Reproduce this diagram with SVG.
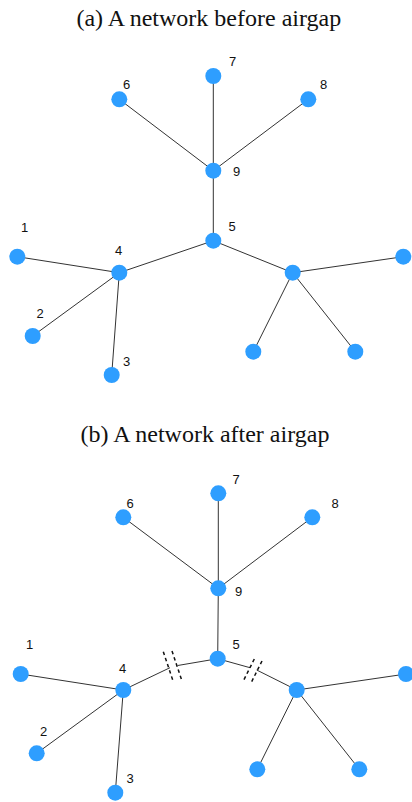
<svg xmlns="http://www.w3.org/2000/svg" width="412" height="802" viewBox="0 0 412 802">
<style>
.title{font-family:"Liberation Serif","Times New Roman",serif;font-size:24px;fill:#111;text-anchor:middle}
.lbl{font-family:"Liberation Sans",Arial,sans-serif;font-size:13px;fill:#111}
.node{fill:#2E9EFF}
.edge{stroke:#333;stroke-width:1;fill:none}
.gap{stroke:#111;stroke-width:1.5;stroke-dasharray:3.5 3;fill:none}
</style>
<rect width="412" height="802" fill="#fff"/>
<text class="title" x="208.8" y="26">(a) A network before airgap</text>
<text class="title" x="205" y="442.3">(b) A network after airgap</text>

<g id="connectors">
  <!-- (a) -->
  <line class="edge" x1="119.3" y1="99.3" x2="213.3" y2="170.7"/>
  <line class="edge" x1="213.3" y1="76" x2="213.3" y2="170.7"/>
  <line class="edge" x1="308.3" y1="99.3" x2="213.3" y2="170.7"/>
  <line class="edge" x1="213.3" y1="170.7" x2="213.3" y2="240.7"/>
  <line class="edge" x1="213.3" y1="240.7" x2="119.3" y2="272.7"/>
  <line class="edge" x1="119.3" y1="272.7" x2="17.3" y2="256.7"/>
  <line class="edge" x1="119.3" y1="272.7" x2="32.7" y2="336"/>
  <line class="edge" x1="119.3" y1="272.7" x2="111.7" y2="375"/>
  <line class="edge" x1="213.3" y1="240.7" x2="292.7" y2="272.7"/>
  <line class="edge" x1="292.7" y1="272.7" x2="403.3" y2="256.7"/>
  <line class="edge" x1="292.7" y1="272.7" x2="253.3" y2="351.7"/>
  <line class="edge" x1="292.7" y1="272.7" x2="355.3" y2="351.7"/>
  <!-- (b) -->
  <line class="edge" x1="123.3" y1="517.3" x2="218.3" y2="588.3"/>
  <line class="edge" x1="218.3" y1="493.3" x2="218.3" y2="588.3"/>
  <line class="edge" x1="312.3" y1="517.3" x2="218.3" y2="588.3"/>
  <line class="edge" x1="218.3" y1="588.3" x2="217.7" y2="658.7"/>
  <line class="edge" x1="123.3" y1="690" x2="170" y2="667.7"/>
  <line class="edge" x1="177.7" y1="665.5" x2="217.7" y2="658.7"/>
  <line class="edge" x1="217.7" y1="658.7" x2="250" y2="667.7"/>
  <line class="edge" x1="256.7" y1="670" x2="296.7" y2="690"/>
  <line class="edge" x1="123.3" y1="690" x2="20.7" y2="674"/>
  <line class="edge" x1="123.3" y1="690" x2="36.7" y2="753.3"/>
  <line class="edge" x1="123.3" y1="690" x2="115.3" y2="792.7"/>
  <line class="edge" x1="296.7" y1="690" x2="406" y2="674"/>
  <line class="edge" x1="296.7" y1="690" x2="257.3" y2="769.3"/>
  <line class="edge" x1="296.7" y1="690" x2="359.3" y2="769.3"/>
  <!-- airgap marks -->
  <line class="gap" x1="163.3" y1="651.7" x2="173.3" y2="681.7"/>
  <line class="gap" x1="172" y1="651" x2="182" y2="681"/>
  <line class="gap" x1="254.3" y1="659" x2="243.3" y2="681"/>
  <line class="gap" x1="262" y1="661" x2="251" y2="683"/>
</g>

<g id="a-n6"><circle class="node" cx="119.3" cy="99.3" r="8"/><text class="lbl" x="123" y="89">6</text></g>
<g id="a-n7"><circle class="node" cx="213.3" cy="76" r="8"/><text class="lbl" x="229" y="66">7</text></g>
<g id="a-n8"><circle class="node" cx="308.3" cy="99.3" r="8"/><text class="lbl" x="320" y="89">8</text></g>
<g id="a-n9"><circle class="node" cx="213.3" cy="170.7" r="8"/><text class="lbl" x="233" y="176">9</text></g>
<g id="a-n5"><circle class="node" cx="213.3" cy="240.7" r="8"/><text class="lbl" x="228.5" y="231">5</text></g>
<g id="a-n4"><circle class="node" cx="119.3" cy="272.7" r="8"/><text class="lbl" x="115" y="255">4</text></g>
<g id="a-n1"><circle class="node" cx="17.3" cy="256.7" r="8"/><text class="lbl" x="21" y="231.5">1</text></g>
<g id="a-n2"><circle class="node" cx="32.7" cy="336" r="8"/><text class="lbl" x="36.5" y="318">2</text></g>
<g id="a-n3"><circle class="node" cx="111.7" cy="375" r="8"/><text class="lbl" x="123" y="365.5">3</text></g>
<g id="a-r"><circle class="node" cx="292.7" cy="272.7" r="8"/></g>
<g id="a-rfar"><circle class="node" cx="403.3" cy="256.7" r="8"/></g>
<g id="a-rbl"><circle class="node" cx="253.3" cy="351.7" r="8"/></g>
<g id="a-rbr"><circle class="node" cx="355.3" cy="351.7" r="8"/></g>

<g id="b-n6"><circle class="node" cx="123.3" cy="517.3" r="8"/><text class="lbl" x="126.5" y="507.5">6</text></g>
<g id="b-n7"><circle class="node" cx="218.3" cy="493.3" r="8"/><text class="lbl" x="232.5" y="483.5">7</text></g>
<g id="b-n8"><circle class="node" cx="312.3" cy="517.3" r="8"/><text class="lbl" x="331.5" y="507.5">8</text></g>
<g id="b-n9"><circle class="node" cx="218.3" cy="588.3" r="8"/><text class="lbl" x="235" y="596">9</text></g>
<g id="b-n5"><circle class="node" cx="217.7" cy="658.7" r="8"/><text class="lbl" x="232.5" y="649">5</text></g>
<g id="b-n4"><circle class="node" cx="123.3" cy="690" r="8"/><text class="lbl" x="119" y="672.5">4</text></g>
<g id="b-n1"><circle class="node" cx="20.7" cy="674" r="8"/><text class="lbl" x="26" y="649">1</text></g>
<g id="b-n2"><circle class="node" cx="36.7" cy="753.3" r="8"/><text class="lbl" x="40" y="736">2</text></g>
<g id="b-n3"><circle class="node" cx="115.3" cy="792.7" r="8"/><text class="lbl" x="126.5" y="782.5">3</text></g>
<g id="b-r"><circle class="node" cx="296.7" cy="690" r="8"/></g>
<g id="b-rfar"><circle class="node" cx="406" cy="674" r="8"/></g>
<g id="b-rbl"><circle class="node" cx="257.3" cy="769.3" r="8"/></g>
<g id="b-rbr"><circle class="node" cx="359.3" cy="769.3" r="8"/></g>
</svg>
